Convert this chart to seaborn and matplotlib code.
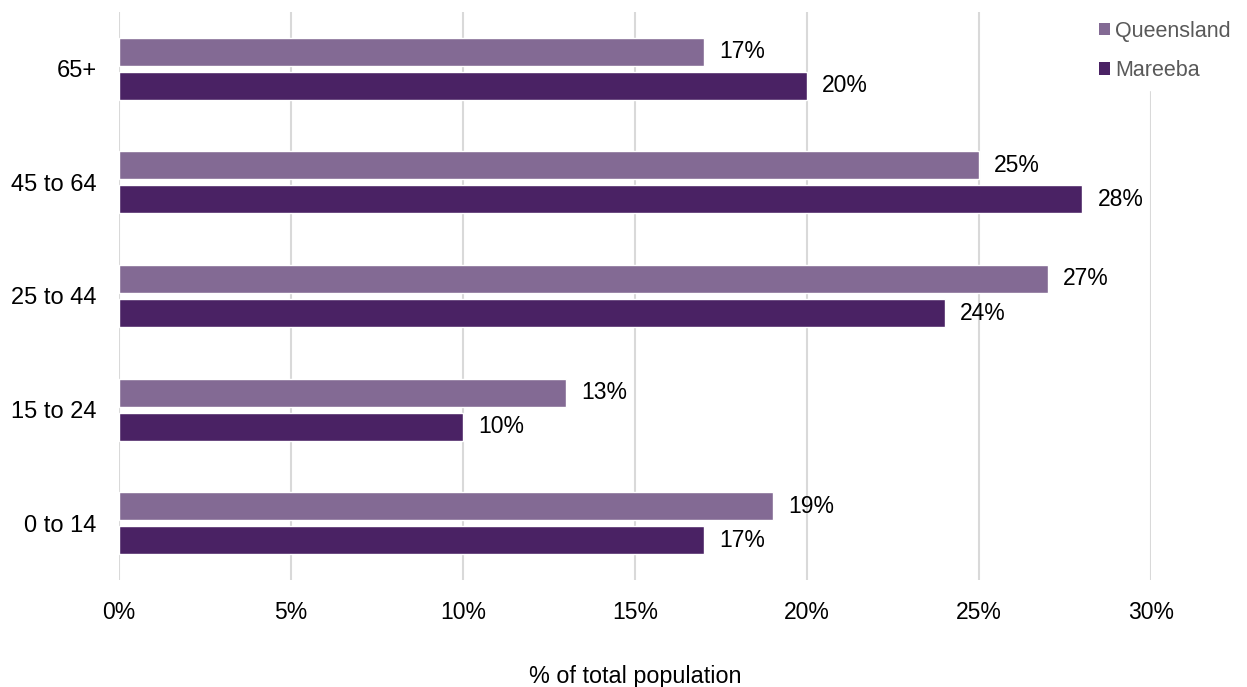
import matplotlib
matplotlib.use("Agg")
import matplotlib.pyplot as plt
import seaborn as sns
import pandas as pd
from matplotlib.patches import Patch

age_groups = ["65+", "45 to 64", "25 to 44", "15 to 24", "0 to 14"]
queensland = [17, 25, 27, 13, 19]
mareeba = [20, 28, 24, 10, 17]
regions = ["Queensland", "Mareeba"]
colors = ["#836A94", "#4A2264"]
x_ticks = [0, 5, 10, 15, 20, 25, 30]

df = pd.DataFrame({
    "age": age_groups * 2,
    "region": [regions[0]] * len(age_groups) + [regions[1]] * len(age_groups),
    "value": queensland + mareeba,
})

sns.set_theme(style="white")
plt.rcParams["font.family"] = ["Liberation Sans", "DejaVu Sans"]

fig = plt.figure(figsize=(12.47, 6.87), dpi=100)
ax = fig.add_axes([119 / 1247, 1 - 580 / 687, (1151 - 119) / 1247, 568 / 687])

sns.barplot(data=df, y="age", x="value", hue="region", order=age_groups,
            hue_order=regions, palette=colors, orient="h", width=0.6,
            gap=0.18, legend=False, ax=ax, saturation=1)

ax.set_xlim(0, 30)
ax.set_ylim(4.5, -0.5)
ax.set_xticks(x_ticks)
ax.set_xticklabels([f"{t}%" for t in x_ticks])
ax.tick_params(axis="both", length=0, labelsize=16.5, colors="#000000")
ax.tick_params(axis="x", pad=15)
ax.tick_params(axis="y", pad=16, labelsize=17)
ax.xaxis.grid(True, color="#D9D9D9", linewidth=1.5)
ax.set_axisbelow(True)
for s in ax.spines.values():
    s.set_visible(False)

ax.set_ylabel("")
ax.set_xlabel("% of total population", fontsize=16.8, labelpad=30, color="#000000")

for cont in ax.containers:
    ax.bar_label(cont, labels=[f"{v:.0f}%" for v in cont.datavalues],
                 padding=11, fontsize=16.5, color="#000000")

handles = [Patch(facecolor=c, edgecolor="none") for c in colors]
leg = fig.legend(handles, regions, loc="upper left",
                 bbox_to_anchor=(1090 / 1247, 1 - 12 / 687), frameon=True,
                 fontsize=15.5, handlelength=0.55, handleheight=0.55,
                 handletextpad=0.2, labelspacing=0.85, borderpad=0.4,
                 borderaxespad=0)
leg.get_frame().set_facecolor("white")
leg.get_frame().set_edgecolor("white")
leg.get_frame().set_alpha(1)
for t in leg.get_texts():
    t.set_color("#595959")

fig.savefig("out.png", dpi=100)
